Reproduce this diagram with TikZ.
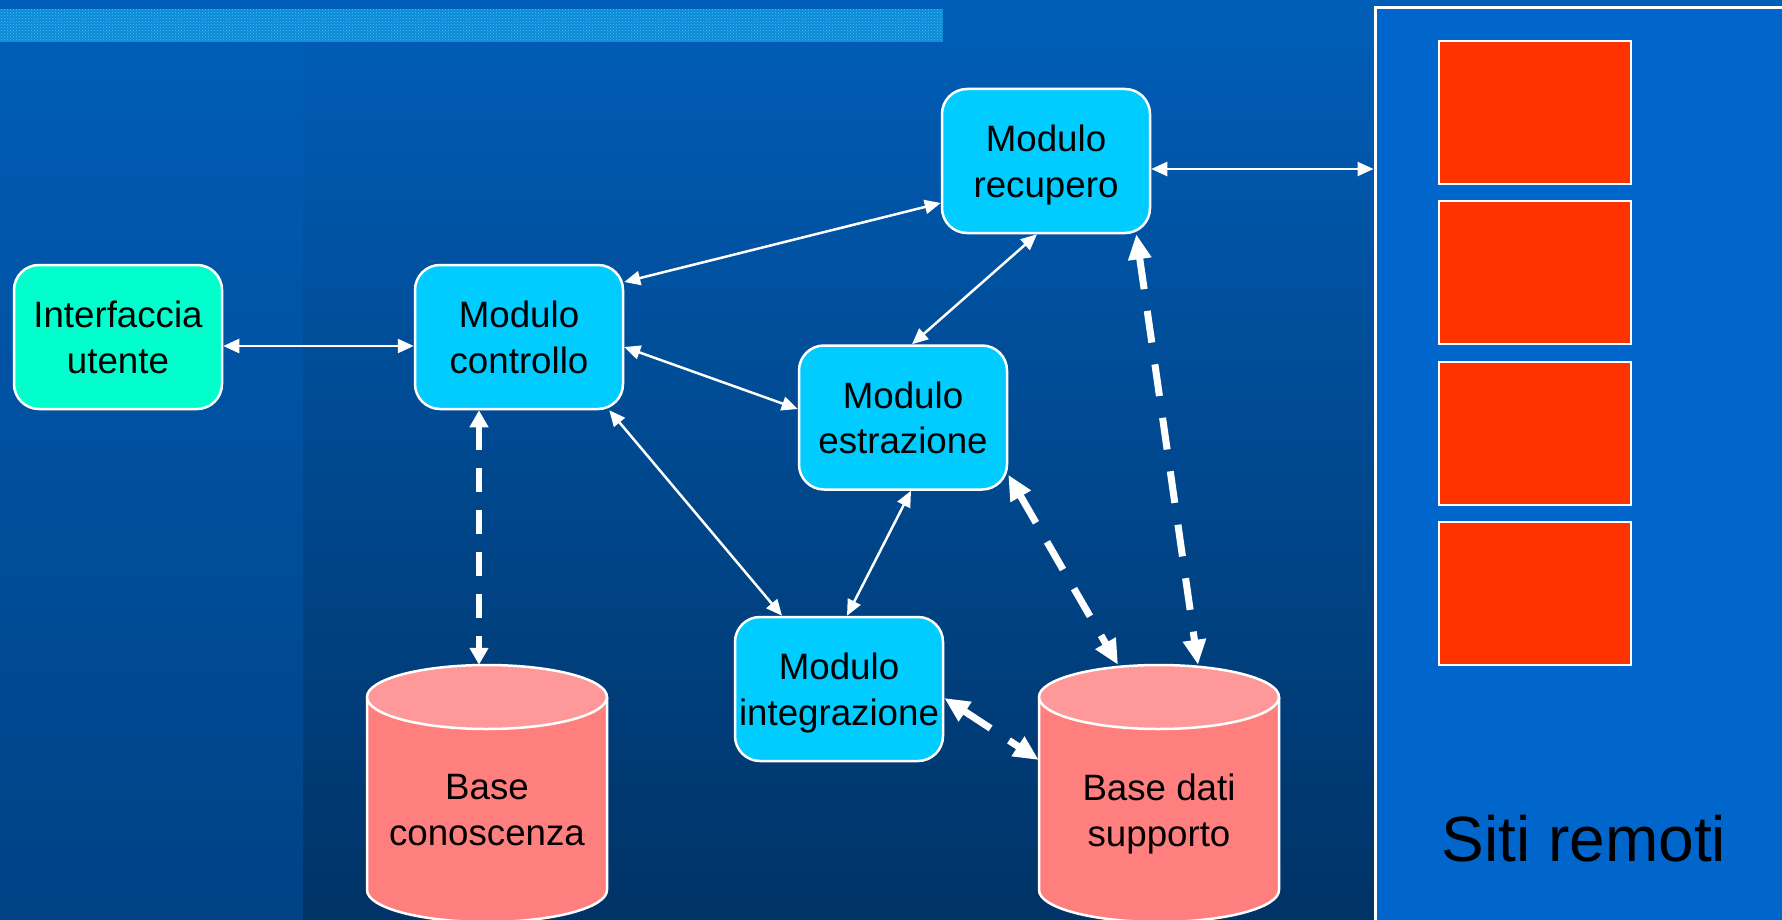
\documentclass[tikz,border=0pt]{standalone}
\usepackage{fontspec}
\setmainfont{Liberation Sans}
\usetikzlibrary{arrows.meta,patterns}

\definecolor{bgtop}{RGB}{0,94,184}
\definecolor{bgbot}{RGB}{0,51,102}
\definecolor{leftbot}{RGB}{0,66,132}
\definecolor{panelblue}{RGB}{0,102,204}
\definecolor{modcyan}{RGB}{0,204,255}
\definecolor{uigreen}{RGB}{0,255,204}
\definecolor{dbbody}{RGB}{255,127,127}
\definecolor{dbtop}{RGB}{255,153,153}
\definecolor{sitered}{RGB}{255,51,0}
\definecolor{bannerbase}{RGB}{16,136,214}
\definecolor{bannerdot}{RGB}{50,200,250}

\tikzset{
  module/.style={draw=white, line width=2.5pt, rounded corners=25pt, fill=modcyan,
    minimum width=208pt, minimum height=144pt, inner sep=0pt, align=center,
    text=black, font=\fontsize{36.7pt}{45.5pt}\selectfont, text depth=0pt,
    execute at begin node={\rule{0pt}{30pt}}},
  uibox/.style={module, fill=uigreen},
  dbhold/.style={draw=none, minimum width=240pt, minimum height=257pt, inner sep=0pt},
  dblabel/.style={align=center, text=black, inner sep=0pt, text depth=0pt,
    font=\fontsize{36.7pt}{45.5pt}\selectfont},
  dbside/.style={draw=white, line width=2.5pt},
  dbcap/.style={fill=dbtop, draw=white, line width=2.5pt},
  sitebox/.style={draw=white, line width=2pt, fill=sitered, minimum width=192pt,
    minimum height=143pt, inner sep=0pt},
  panelbox/.style={draw=white, line width=3pt, fill=panelblue, minimum width=430pt,
    minimum height=940pt, inner sep=0pt},
  link/.style={draw=white, line width=2.5pt, {Triangle[length=16pt,width=14pt]}-{Triangle[length=16pt,width=14pt]}},
  dblink/.style={draw=white, line width=7pt, dash pattern=on 32pt off 22pt,
    {Triangle[length=25pt,width=22pt]}-{Triangle[length=25pt,width=22pt]}},
  kblink/.style={draw=white, line width=6pt, dash pattern=on 24pt off 18pt,
    {Triangle[length=17pt,width=18pt]}-{Triangle[length=17pt,width=18pt]}},
}

\begin{document}
\begin{tikzpicture}[x=1pt, y=-1pt]
  \useasboundingbox (0,0) rectangle (1782,920);
  \clip (0,0) rectangle (1782,920);

  % background
  \shade[top color=bgtop, bottom color=bgbot] (0,0) rectangle (1782,920);
  \shade[top color=bgtop, bottom color=leftbot] (0,0) rectangle (303,920);

  % title banner
  \fill[bannerbase] (0,9) rectangle (943,42);
  \fill[pattern=crosshatch dots, pattern color=bannerdot] (0,9) rectangle (943,42);

  % remote sites panel
  \node[panelbox] (panel) at (1590,478) {};
  \node[sitebox] (site1) at (1535,112.5) {};
  \node[sitebox] (site2) at (1535,272.5) {};
  \node[sitebox] (site3) at (1535,433) {};
  \node[sitebox] (site4) at (1535,593.5) {};
  \node[anchor=base, text=black, font=\fontsize{64pt}{72pt}\selectfont, inner sep=0pt]
    (sites) at (1584,861) {Siti remoti};

  % modules
  \node[uibox]  (iface) at (118,337)   {Interfaccia\\utente};
  \node[module] (ctrl)  at (519,337)   {Modulo\\controllo};
  \node[module] (recup) at (1046,161)  {Modulo\\recupero};
  \node[module] (estr)  at (903,417.5) {Modulo\\estrazione};
  \node[module] (integ) at (839,689)   {Modulo\\integrazione};

  % knowledge base cylinder
  \node[dbhold] (kb) at (487,793.5) {};
  \fill[dbbody] (367,697) -- (367,890) arc[start angle=180, end angle=360, x radius=120pt, y radius=32pt] -- (607,697) -- cycle;
  \draw[dbside] (367,697) -- (367,890) arc[start angle=180, end angle=360, x radius=120pt, y radius=32pt] -- (607,697);
  \draw[dbcap] (487,697) ellipse [x radius=120pt, y radius=32pt];
  \node[dblabel] (kbtext) at (487,810) {Base\\conoscenza};

  % support database cylinder
  \node[dbhold] (bd) at (1159,793.5) {};
  \fill[dbbody] (1039,697) -- (1039,890) arc[start angle=180, end angle=360, x radius=120pt, y radius=32pt] -- (1279,697) -- cycle;
  \draw[dbside] (1039,697) -- (1039,890) arc[start angle=180, end angle=360, x radius=120pt, y radius=32pt] -- (1279,697);
  \draw[dbcap] (1159,697) ellipse [x radius=120pt, y radius=32pt];
  \node[dblabel] (bdtext) at (1159,810) {Base dati\\supporto};

  % solid links between modules
  \draw[link] ([yshift=-9pt]iface.east) -- ([yshift=-9pt]ctrl.west);
  \draw[link] ([yshift=55pt]ctrl.east) -- ([yshift=-42pt]recup.west);
  \draw[link] ([yshift=-10pt]ctrl.east) -- ([yshift=8.5pt]estr.west);
  \draw[link] ([xshift=-15pt]ctrl.south east) -- ([xshift=-57pt]integ.north);
  \draw[link] ([xshift=-9pt]recup.south) -- ([xshift=9pt]estr.north);
  \draw[link] ([xshift=8pt]estr.south) -- ([xshift=8pt]integ.north);
  \coordinate (r7) at ([yshift=-8pt]recup.east);
  \draw[link] (r7) -- (r7 -| panel.west);

  % dashed links to the databases
  \draw[kblink] ([xshift=-40pt]ctrl.south) -- ([xshift=-8pt]kb.north);
  \draw[dblink] ([yshift=16pt]estr.south east) -- ([xshift=-41pt]bd.north);
  \draw[dblink] ([xshift=-15pt]recup.south east) -- ([xshift=39pt]bd.north);
  \draw[dblink] ([yshift=-9pt]integ.east) -- ([yshift=33.5pt]bd.west);
\end{tikzpicture}
\end{document}
